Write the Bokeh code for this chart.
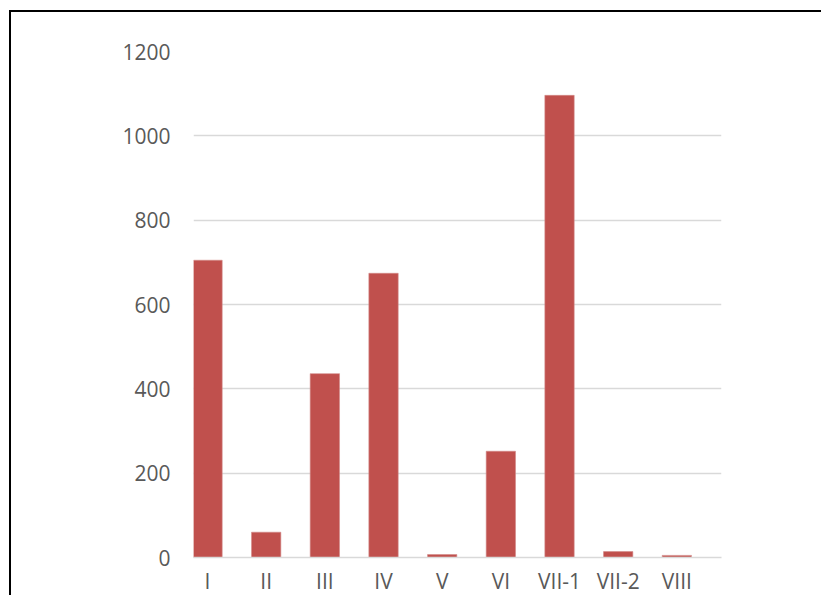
from bokeh.plotting import figure
from bokeh.models import Range1d, FixedTicker, ColumnDataSource
from bokeh.embed import file_html
from bokeh.resources import INLINE

categories = ["I", "II", "III", "IV", "V", "VI", "VII-1", "VII-2", "VIII"]
values = [705, 60, 436, 674, 7, 252, 1096, 14, 5]
y_ticks = [0, 200, 400, 600, 800, 1000, 1200]

xs = list(range(len(categories)))
src = ColumnDataSource(dict(x=xs, top=values))

p = figure(width=812, height=585, output_backend="svg", toolbar_location=None,
           x_range=Range1d(-0.239, len(categories) - 0.239), y_range=Range1d(0, 1200),
           min_border_left=182, min_border_right=102, min_border_top=39, min_border_bottom=38,
           styles={"border-left": "2px solid #000000", "border-top": "2px solid #000000",
                   "margin-left": "9px", "margin-top": "10px"})

p.vbar(x="x", top="top", bottom=0, width=0.5, source=src,
       fill_color="#C0504D", line_color="#D28A88", line_width=0.6)

p.outline_line_color = None
p.background_fill_color = "white"
p.border_fill_color = "white"

p.xgrid.grid_line_color = None
p.ygrid.grid_line_color = "#D9D9D9"
p.ygrid.grid_line_width = 1.5

p.yaxis.ticker = FixedTicker(ticks=y_ticks)
p.yaxis.axis_line_color = None
p.yaxis.major_tick_line_color = None
p.yaxis.minor_tick_line_color = None
p.yaxis.major_tick_out = 0
p.yaxis.major_tick_in = 0
p.yaxis.major_label_standoff = 23

p.xaxis.ticker = FixedTicker(ticks=xs)
p.xaxis.major_label_overrides = {i: c for i, c in enumerate(categories)}
p.xaxis.axis_line_color = "#D9D9D9"
p.xaxis.axis_line_width = 1.5
p.xaxis.major_tick_line_color = None
p.xaxis.minor_tick_line_color = None
p.xaxis.major_tick_out = 0
p.xaxis.major_tick_in = 0
p.xaxis.major_label_standoff = 9

for ax in (p.xaxis, p.yaxis):
    ax.major_label_text_font = "Open Sans"
    ax.major_label_text_font_size = "21px"
    ax.major_label_text_color = "#595959"

open("out.html", "w").write(file_html(p, INLINE))
